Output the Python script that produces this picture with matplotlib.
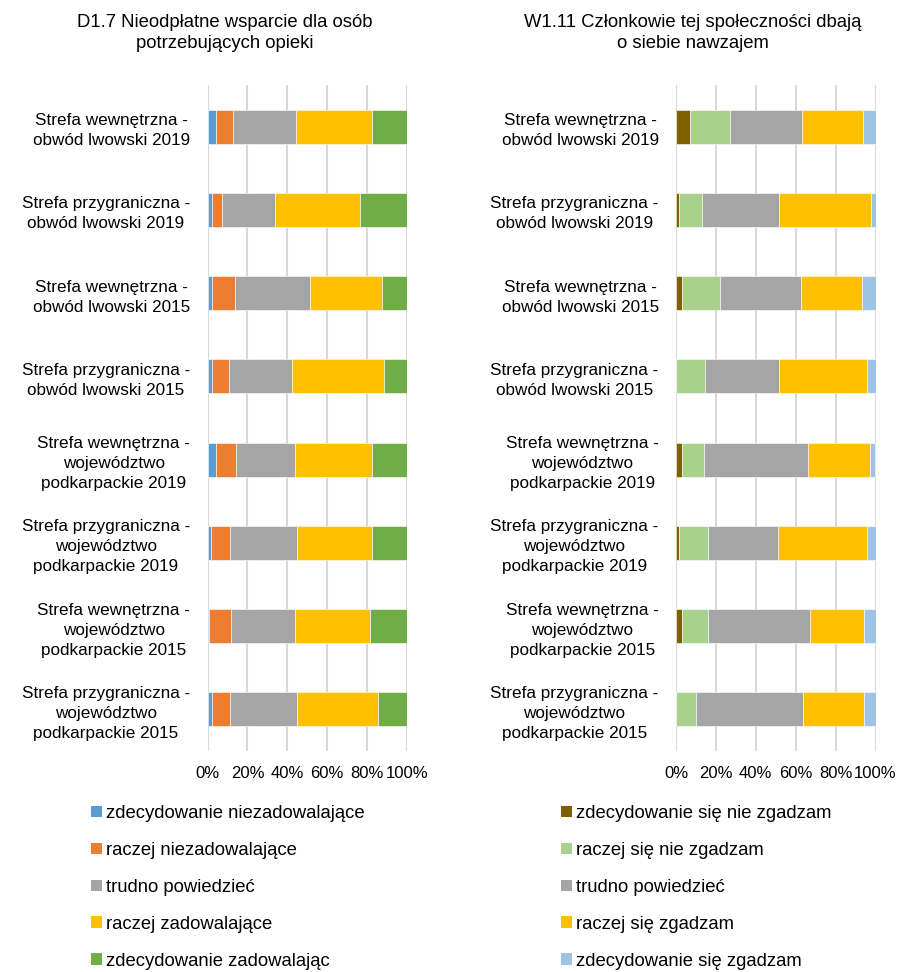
import matplotlib
matplotlib.use("Agg")
import matplotlib.pyplot as plt
import numpy as np
from matplotlib.patches import Patch

plt.rcParams['font.family'] = ['Liberation Sans', 'DejaVu Sans']

categories = [
    "Strefa wewnętrzna -\nobwód lwowski 2019",
    "Strefa przygraniczna -\nobwód lwowski 2019",
    "Strefa wewnętrzna -\nobwód lwowski 2015",
    "Strefa przygraniczna -\nobwód lwowski 2015",
    "Strefa wewnętrzna -\nwojewództwo\npodkarpackie 2019",
    "Strefa przygraniczna -\nwojewództwo\npodkarpackie 2019",
    "Strefa wewnętrzna -\nwojewództwo\npodkarpackie 2015",
    "Strefa przygraniczna -\nwojewództwo\npodkarpackie 2015",
]

title_left = "D1.7 Nieodpłatne wsparcie dla osób\npotrzebujących opieki"
title_right = "W1.11 Członkowie tej społeczności dbają\no siebie nawzajem"

left_labels = ["zdecydowanie niezadowalające", "raczej niezadowalające",
               "trudno powiedzieć", "raczej zadowalające", "zdecydowanie zadowalając"]
left_colors = ["#5B9BD5", "#ED7D31", "#A5A5A5", "#FFC000", "#70AD47"]
left_values = [
    [4.2, 2.2, 2.5, 2.2, 4.2, 2.0, 1.0, 2.5],
    [8.8, 5.3, 11.5, 8.8, 10.3, 9.5, 10.8, 9.0],
    [31.2, 26.3, 37.5, 31.5, 29.3, 33.3, 32.0, 33.3],
    [38.5, 42.4, 35.8, 46.0, 38.9, 37.7, 37.7, 40.7],
    [17.3, 23.8, 12.7, 11.5, 17.3, 17.5, 18.5, 14.5],
]

right_labels = ["zdecydowanie się nie zgadzam", "raczej się nie zgadzam",
                "trudno powiedzieć", "raczej się zgadzam", "zdecydowanie się zgadzam"]
right_colors = ["#7F6000", "#A9D18E", "#A5A5A5", "#FFC000", "#9DC3E6"]
right_values = [
    [7.2, 1.5, 3.2, 0.0, 3.0, 1.3, 3.0, 0.0],
    [19.8, 11.4, 18.8, 14.4, 10.9, 14.6, 12.9, 9.8],
    [36.3, 38.9, 40.8, 37.4, 52.2, 35.2, 51.2, 53.8],
    [30.2, 46.0, 30.4, 43.9, 31.2, 44.7, 27.2, 30.7],
    [6.5, 2.2, 6.8, 4.3, 2.7, 4.2, 5.7, 5.7],
]

xticks = [0, 20, 40, 60, 80, 100]
xticklabels = ["0%", "20%", "40%", "60%", "80%", "100%"]

W, H = 898, 972
fig = plt.figure(figsize=(W / 100, H / 100), dpi=100)

def draw(ax, values, colors, labels):
    y = np.arange(len(categories))
    arr = np.array(values, dtype=float)
    arr = arr / arr.sum(axis=0) * 100
    left = np.zeros(len(categories))
    for vals, c, lab in zip(arr, colors, labels):
        ax.barh(y, vals, left=left, height=0.41, color=c, label=lab,
                edgecolor="white", linewidth=0.4, zorder=3)
        left += vals
    ax.set_xlim(0, 100)
    ax.set_ylim(len(categories) - 0.5, -0.5)
    ax.set_yticks(y)
    ax.set_yticklabels(categories, fontsize=12.3, multialignment="center",
                       linespacing=1.42)
    ax.set_xticks(xticks)
    ax.set_xticklabels(xticklabels, fontsize=12)
    ax.tick_params(axis="y", length=0, pad=12.5, colors="#000000")
    ax.tick_params(axis="x", length=0, pad=11, colors="#000000")
    for s in ax.spines.values():
        s.set_visible(False)
    ax.grid(axis="x", color="#D9D9D9", linewidth=1.5, zorder=0)
    ax.set_axisbelow(True)

axL = fig.add_axes([207.5 / W, 1 - 751 / H, 199.5 / W, 666 / H])
axR = fig.add_axes([676 / W, 1 - 751 / H, 199.5 / W, 666 / H])
draw(axL, left_values, left_colors, left_labels)
draw(axR, right_values, right_colors, right_labels)

fig.text(225 / W, 1 - 33 / H, title_left, ha="center", va="center",
         fontsize=13.3, linespacing=1.32, color="#000000")
fig.text(693 / W, 1 - 33 / H, title_right, ha="center", va="center",
         fontsize=13.3, linespacing=1.32, color="#000000")

def legend(handles_labels, colors, x):
    handles = [Patch(facecolor=c, edgecolor="none") for c in colors]
    fig.legend(handles, handles_labels, loc="upper left",
               bbox_to_anchor=(x / W, 1 - 805 / H), frameon=False,
               fontsize=13.3, handlelength=0.6, handleheight=0.6,
               handletextpad=0.2, labelspacing=1.08, borderaxespad=0,
               borderpad=0)

legend(left_labels, left_colors, 91)
legend(right_labels, right_colors, 561)

fig.savefig("out.png", dpi=100, facecolor="white")
